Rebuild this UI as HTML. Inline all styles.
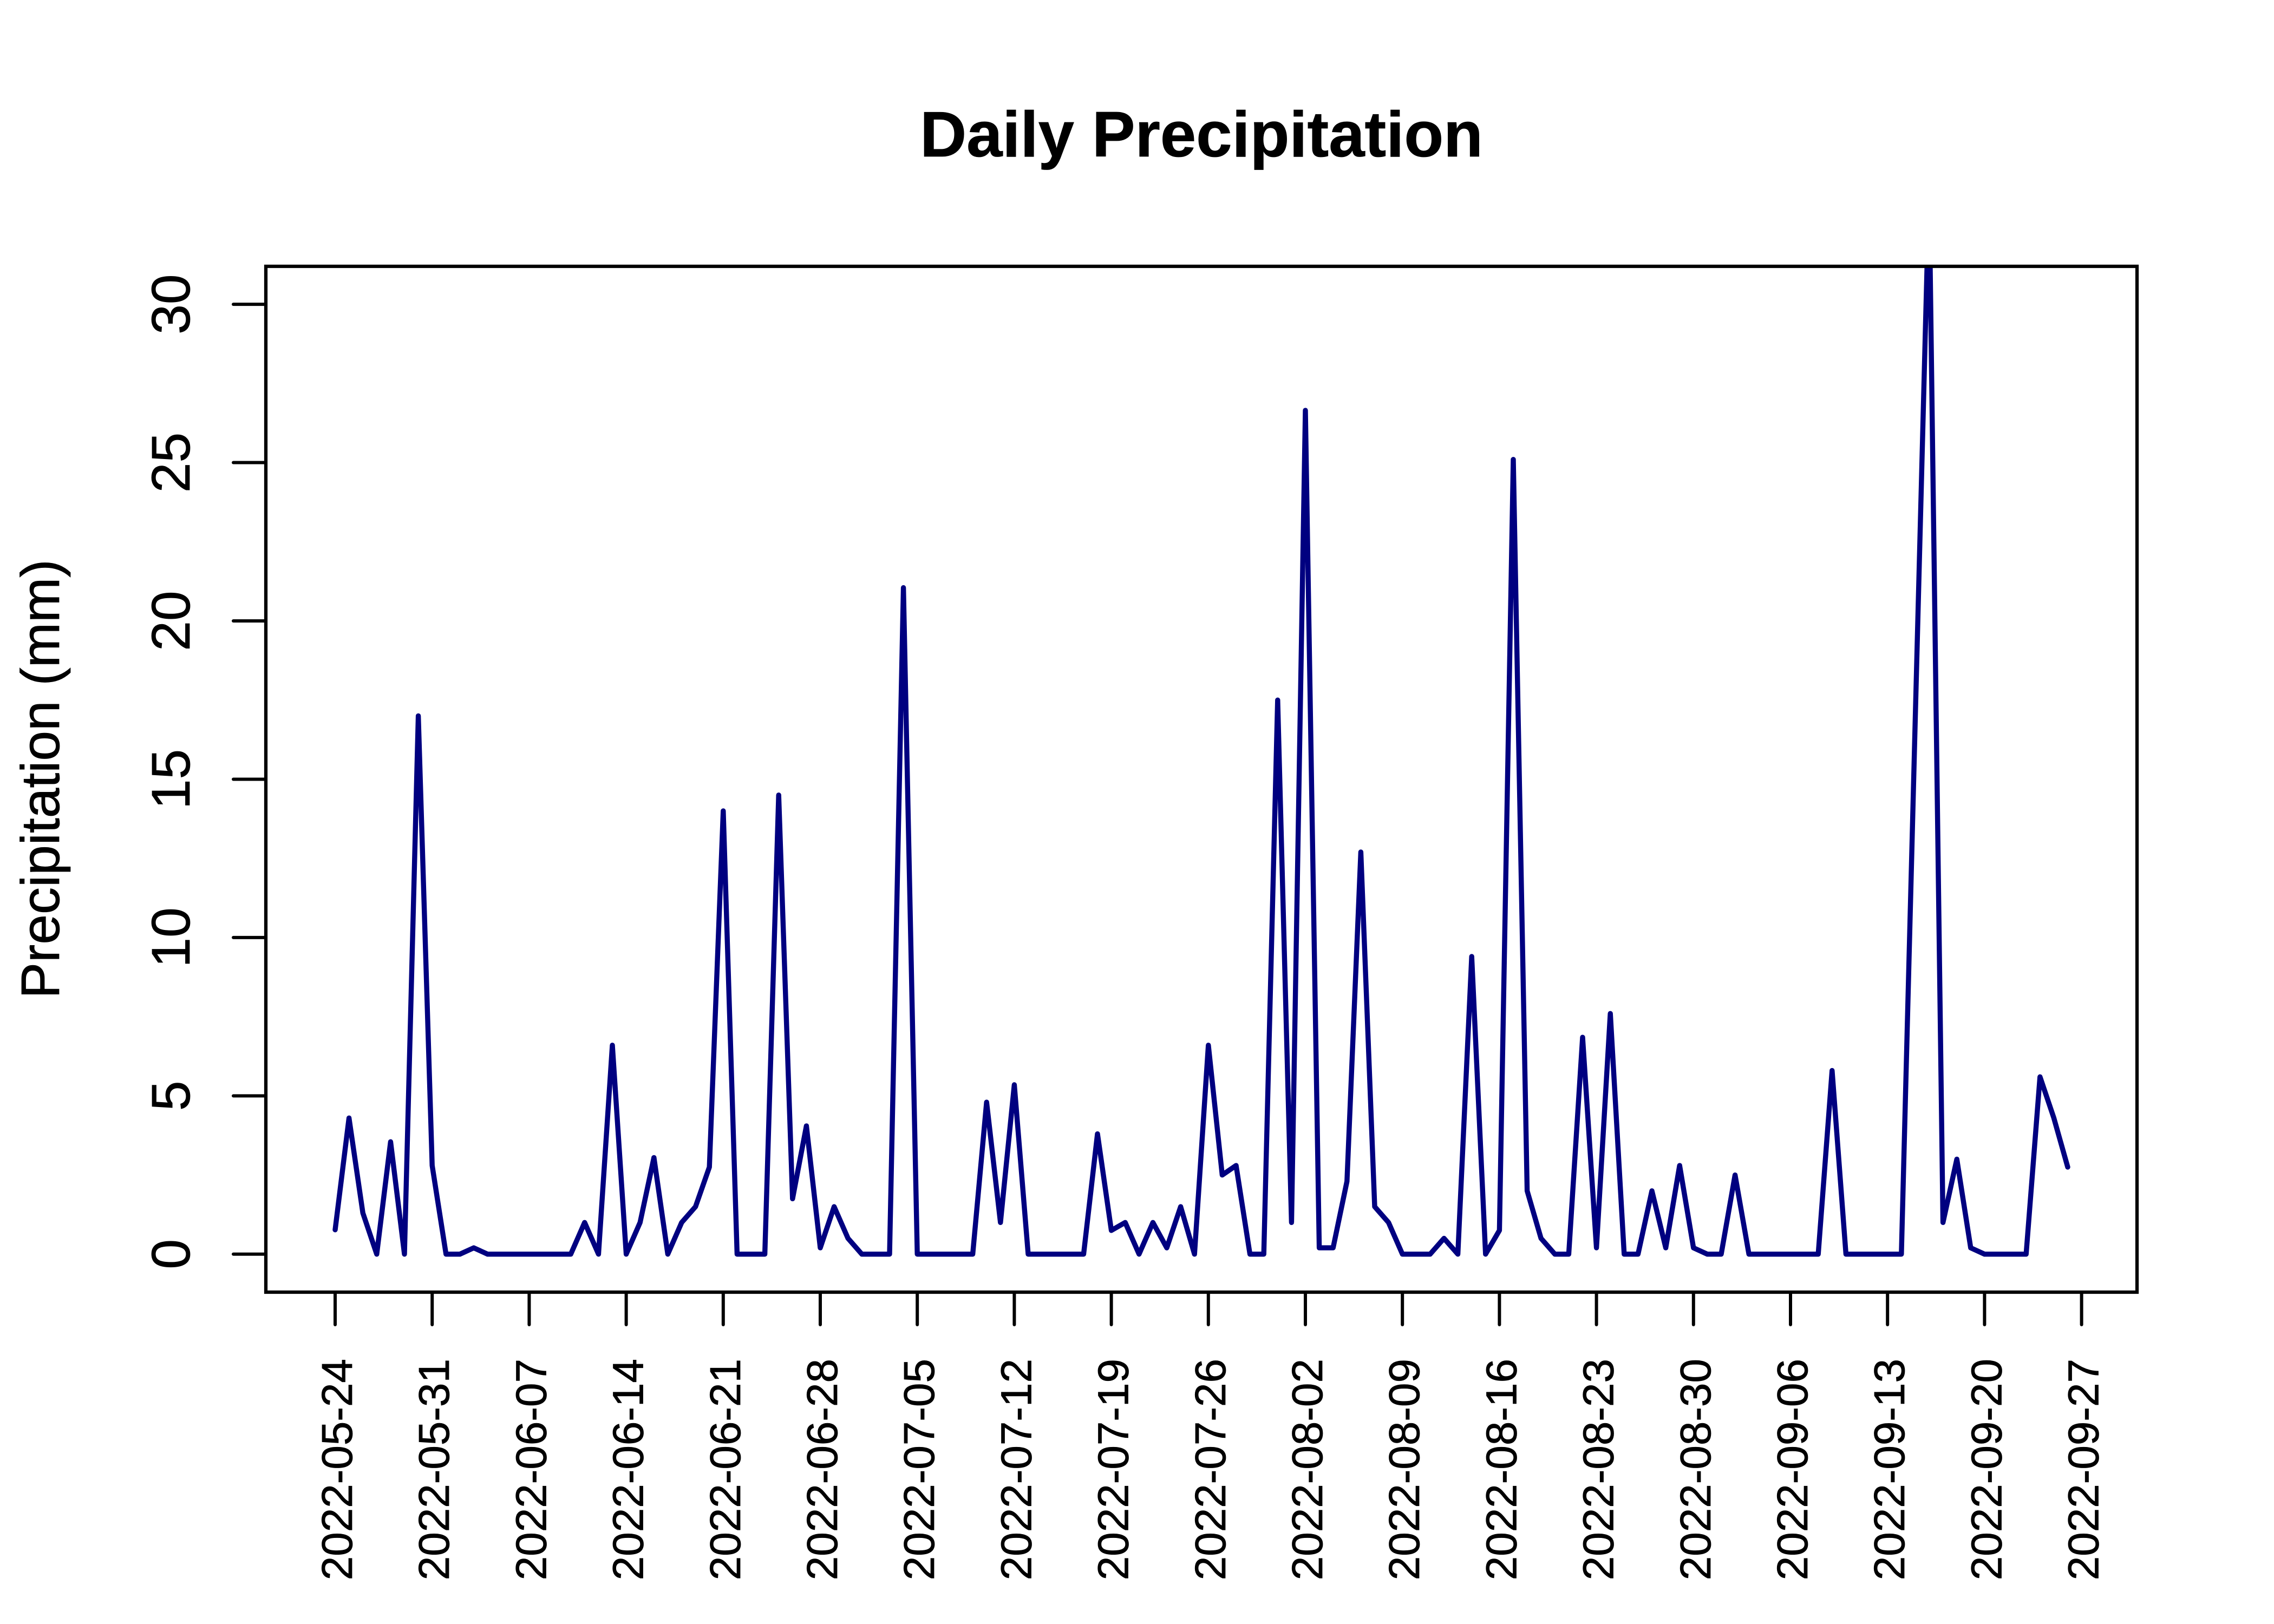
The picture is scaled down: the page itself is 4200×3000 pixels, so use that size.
<!DOCTYPE html>
<html lang="en">
<head>
<meta charset="utf-8">
<title>Daily Precipitation</title>
<style>
html,body{margin:0;padding:0;background:#fff;}
svg{display:block;}
text{font-family:"Liberation Sans",Arial,sans-serif;fill:#000;stroke:#000;stroke-width:0.8px;}
</style>
</head>
<body>
<svg id="chart" xmlns="http://www.w3.org/2000/svg" width="4200" height="3000" viewBox="0 0 4200 3000">
  <rect x="0" y="0" width="4200" height="3000" fill="#ffffff"/>
  <defs>
    <clipPath id="plot-clip"><rect x="491" y="492" width="3456" height="1895"/></clipPath>
  </defs>
  <text x="2219" y="289" font-size="119.2" font-weight="700" text-anchor="middle">Daily Precipitation</text>
  <text x="0" y="0" transform="translate(109 1439) rotate(-90)" font-size="100" text-anchor="middle">Precipitation (mm)</text>
  <g id="series-layer" clip-path="url(#plot-clip)"></g>
  <rect x="491" y="492" width="3456" height="1895" fill="none" stroke="#000" stroke-width="6.25"/>
  <g id="x-axis"></g>
  <g id="y-axis"></g>
</svg>
<script>
const dates = [
"2022-05-24","2022-05-25","2022-05-26","2022-05-27","2022-05-28","2022-05-29","2022-05-30","2022-05-31",
"2022-06-01","2022-06-02","2022-06-03","2022-06-04","2022-06-05","2022-06-06","2022-06-07","2022-06-08","2022-06-09","2022-06-10",
"2022-06-11","2022-06-12","2022-06-13","2022-06-14","2022-06-15","2022-06-16","2022-06-17","2022-06-18","2022-06-19","2022-06-20",
"2022-06-21","2022-06-22","2022-06-23","2022-06-24","2022-06-25","2022-06-26","2022-06-27","2022-06-28","2022-06-29","2022-06-30",
"2022-07-01","2022-07-02","2022-07-03","2022-07-04","2022-07-05","2022-07-06","2022-07-07","2022-07-08","2022-07-09","2022-07-10",
"2022-07-11","2022-07-12","2022-07-13","2022-07-14","2022-07-15","2022-07-16","2022-07-17","2022-07-18","2022-07-19","2022-07-20",
"2022-07-21","2022-07-22","2022-07-23","2022-07-24","2022-07-25","2022-07-26","2022-07-27","2022-07-28","2022-07-29","2022-07-30","2022-07-31",
"2022-08-01","2022-08-02","2022-08-03","2022-08-04","2022-08-05","2022-08-06","2022-08-07","2022-08-08","2022-08-09","2022-08-10",
"2022-08-11","2022-08-12","2022-08-13","2022-08-14","2022-08-15","2022-08-16","2022-08-17","2022-08-18","2022-08-19","2022-08-20",
"2022-08-21","2022-08-22","2022-08-23","2022-08-24","2022-08-25","2022-08-26","2022-08-27","2022-08-28","2022-08-29","2022-08-30","2022-08-31",
"2022-09-01","2022-09-02","2022-09-03","2022-09-04","2022-09-05","2022-09-06","2022-09-07","2022-09-08","2022-09-09","2022-09-10",
"2022-09-11","2022-09-12","2022-09-13","2022-09-14","2022-09-15","2022-09-16","2022-09-17","2022-09-18","2022-09-19","2022-09-20",
"2022-09-21","2022-09-22","2022-09-23","2022-09-24","2022-09-25","2022-09-26"
];
const precipitation = [
0.77,4.3,1.3,0,3.55,0,17,2.8,0,0,
0.2,0,0,0,0,0,0,0,1,0,
6.6,0,1,3.05,0,1,1.5,2.75,14,0,
0,0,14.5,1.75,4.05,0.2,1.5,0.5,0,0,
0,21.05,0,0,0,0,0,4.8,1,5.35,
0,0,0,0,0,3.8,0.75,1,0,1,
0.2,1.5,0,6.6,2.5,2.8,0,0,17.5,1,
26.65,0.2,0.2,2.3,12.7,1.5,1,0,0,0,
0.5,0,9.4,0,0.75,25.1,2,0.5,0,0,
6.85,0.2,7.6,0,0,2,0.2,2.8,0.2,0,
0,2.5,0,0,0,0,0,0,5.8,0,
0,0,0,0,16.9,33.7,1,3,0.2,0,
0,0,0,5.6,4.3,2.75
];
const xTickLabels = [
"2022-05-24","2022-05-31","2022-06-07","2022-06-14","2022-06-21","2022-06-28","2022-07-05",
"2022-07-12","2022-07-19","2022-07-26","2022-08-02","2022-08-09","2022-08-16","2022-08-23",
"2022-08-30","2022-09-06","2022-09-13","2022-09-20","2022-09-27"
];
const yTickValues = [0,5,10,15,20,25,30];

const SVG_NS = "http://www.w3.org/2000/svg";
const DAY_MS = 86400000;
const firstDay = Date.parse(dates[0]);
const lastDay = Date.parse(dates[dates.length - 1]);

// Axis functions: the plot frame is the data range padded by 4% on each side (x) and ylim 0..30 (y).
function xScale(dateText) {
  const left = 491, right = 3947, pad = 0.04;
  const span = (lastDay - firstDay) / DAY_MS;
  const lo = -span * pad, hi = span * (1 + pad);
  const day = (Date.parse(dateText) - firstDay) / DAY_MS;
  return left + (day - lo) / (hi - lo) * (right - left);
}
function yScale(value) {
  const zeroY = 2316.8, perUnit = 58.49;
  return zeroY - value * perUnit;
}

const seriesLayer = document.getElementById("series-layer");
const line = document.createElementNS(SVG_NS, "polyline");


line.setAttribute("fill", "none");
line.setAttribute("stroke", "#000080");
line.setAttribute("stroke-width", "9.4");
line.setAttribute("stroke-linejoin", "round");
line.setAttribute("stroke-linecap", "round");
line.setAttribute("points", precipitation.map(function (v, i) {
  return xScale(dates[i]).toFixed(2) + "," + yScale(v).toFixed(2);
}).join(" "));
seriesLayer.appendChild(line);

const xAxis = document.getElementById("x-axis");
xTickLabels.forEach(function (label) {
  const x = xScale(label);
  const tick = document.createElementNS(SVG_NS, "line");
  
  
  tick.setAttribute("x1", x);
  tick.setAttribute("x2", x);
  tick.setAttribute("y1", 2387);
  tick.setAttribute("y2", 2447);
  tick.setAttribute("stroke", "#000");
  tick.setAttribute("stroke-width", "6");
  tick.setAttribute("stroke-linecap", "round");
  xAxis.appendChild(tick);
  const text = document.createElementNS(SVG_NS, "text");
  
  
  text.setAttribute("transform", "translate(" + (x + 31) + " 2510) rotate(-90)");
  text.setAttribute("font-size", "80");
  text.setAttribute("text-anchor", "end");
  text.textContent = label;
  xAxis.appendChild(text);
});

const yAxis = document.getElementById("y-axis");
yTickValues.forEach(function (value) {
  const y = yScale(value);
  const tick = document.createElementNS(SVG_NS, "line");
  
  
  tick.setAttribute("x1", 491);
  tick.setAttribute("x2", 431);
  tick.setAttribute("y1", y);
  tick.setAttribute("y2", y);
  tick.setAttribute("stroke", "#000");
  tick.setAttribute("stroke-width", "6");
  tick.setAttribute("stroke-linecap", "round");
  yAxis.appendChild(tick);
  const text = document.createElementNS(SVG_NS, "text");
  
  
  text.setAttribute("transform", "translate(350 " + y + ") rotate(-90)");
  text.setAttribute("font-size", "100");
  text.setAttribute("text-anchor", "middle");
  text.textContent = String(value);
  yAxis.appendChild(text);
});
</script>
</body>
</html>
